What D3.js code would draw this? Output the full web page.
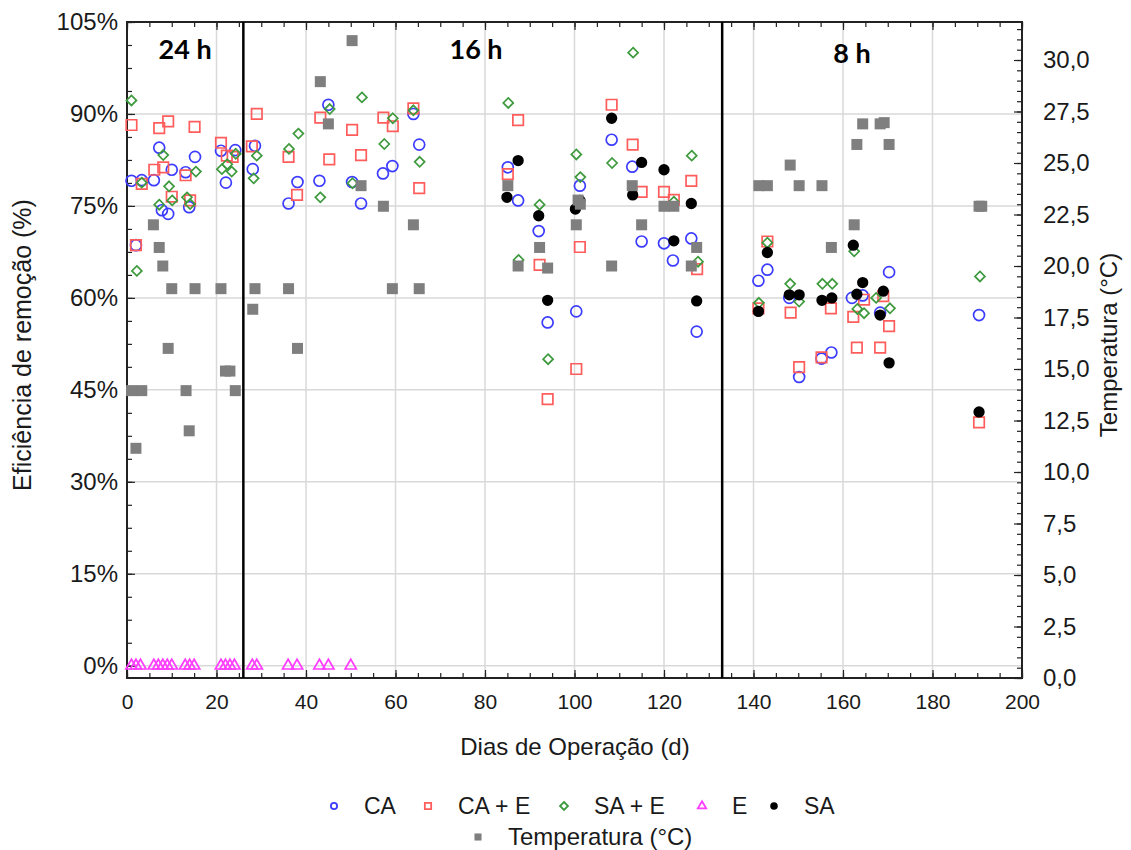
<!DOCTYPE html>
<html><head><meta charset="utf-8">
<script src="https://cdn.jsdelivr.net/npm/d3@7"></script>
<style>body{margin:0;background:#fff}svg{display:block}</style>
</head><body>
<svg id="c" width="1131" height="850"></svg>
<script>
// ---- data ----
const xTicks = [0,20,40,60,80,100,120,140,160,180,200];
const yLeftTicks = [0,15,30,45,60,75,90,105];
const yRightTicks = [0,2.5,5,7.5,10,12.5,15,17.5,20,22.5,25,27.5,30];
const phaseBreaks = [26,133];
const phaseLabels = ["24 h","16 h","8 h"];
const phaseLabelX = [13,78,162];

const caDays = [1,2,3.3,6,7.2,7.8,9.2,10,13.1,13.9,15.2,21,22.1,24.2,28.1,28.6,36.1,38.1,43,45,50.3,52.3,57.2,59.3,64,65.3,85.1,87.4,92,94,100.4,101.2,108.3,112.9,115,120,122,126.1,127.3,141.1,143.1,148,150.2,155.2,157.4,162,164.4,168.3,170.3,190.4];
const caVals = [79.1,68.6,79.2,79.2,84.5,74.3,73.7,80.9,80.5,74.8,83,84,78.8,84.1,81,84.8,75.4,78.9,79.1,91.5,78.9,75.4,80.3,81.5,90,85,81.3,75.9,70.9,56,57.8,78.3,85.8,81.4,69.2,68.9,66.1,69.7,54.5,62.8,64.6,60,47.1,50.1,51.1,60,60.4,57.6,64.2,57.2];

const caeDays = [1,2,3.3,6.1,7.2,8.1,9.2,10,13.1,14.1,15.1,21,22.3,23.6,27.9,29,36.1,38,43.2,45.2,50.3,52.3,57.3,59.4,64,65.3,85.1,87.4,92.2,94,100.4,101.2,108.3,113,115,120,122.2,126.1,127.4,141.1,143.1,148.3,150.2,155.2,157.3,162.3,163.1,164.7,168.3,169,170.3,190.4];
const caeVals = [88.2,68.6,78.6,80.9,87.7,81.3,88.8,76.5,80,75.9,87.9,85.3,83.2,83,84.7,90,83,76.8,89.4,82.6,87.4,83.3,89.4,88,90.9,77.9,80.2,89,65.4,43.5,48.4,68.3,91.5,85,77.3,77.3,76,79.1,64.7,58.3,69.2,57.6,48.7,50.3,58.3,56.9,51.9,59.7,51.9,60.3,55.4,39.7];

const saeDays = [1,2.2,3.3,7.2,8.1,9.4,10.1,13.4,14.1,15.4,21.2,22.4,23.4,24.3,28.3,29,36.2,38.3,43.2,45.3,50.4,52.5,57.5,59.4,64,65.4,85.2,87.5,92.2,94.1,100.4,101.3,108.4,113.1,122.2,126.2,127.6,141.2,143.1,148.2,150.2,155.4,157.6,162.5,163.2,164.7,167.4,170.5,190.6];
const saeVals = [92.2,64.4,78.8,75.2,83.3,78.2,75.9,76.4,75.3,80.6,81,81.8,80.6,83.5,79.5,83.2,84.3,86.8,76.4,90.8,78.7,92.7,85.1,89.3,90.6,82.2,91.8,66.2,75.2,50,83.4,79.7,82,100,75.7,83.2,65.9,59.2,69,62.3,59.4,62.3,62.3,67.6,58.2,57.5,60,58.3,63.5];

const eDays = [1,2,3,6,7,8,9,10,13,14,15,21,22,23,24,28,29,36,38,43,45,50];
const eVals = [0,0,0,0,0,0,0,0,0,0,0,0,0,0,0,0,0,0,0,0,0,0];

const saDays = [84.9,87.4,92,94,100.2,101.2,108.3,113,115,120,122.2,126.1,127.3,141.1,143.1,148,150.2,155.3,157.5,162.3,163.1,164.4,168.3,169,170.3,190.4];
const saVals = [76.4,82.4,73.4,59.6,74.5,75.9,89.3,76.8,82.1,80.9,69.3,75.4,59.5,57.8,67.4,60.5,60.5,59.6,60,68.6,60.6,62.5,57.2,61.1,49.4,41.4];

const tempDays = [1,2,3.3,5.9,7.2,8,9.2,10,13.2,13.9,15.2,21,22,23,24.2,28.1,28.6,36.1,38.1,43.2,45,50.3,52.3,57.3,59.3,64,65.3,85.1,87.4,92.2,94,100.4,100.8,101.3,108.3,112.9,115,120,122.2,126.1,127.3,141.2,143.1,148.2,150.2,155.3,157.4,162.5,163.1,164.4,168.3,169.2,170.3,190.4,191];
const tempVals = [13.95,11.15,13.95,22,20.9,20,16,18.9,13.95,12,18.9,18.9,14.9,14.9,13.95,17.9,18.9,18.9,16,28.95,26.9,30.94,23.9,22.9,18.9,22,18.9,23.9,20,20.9,19.9,22,23.2,23,20,23.9,22,22.9,22.9,20,20.9,23.9,23.9,24.9,23.9,23.9,20.9,22,25.9,26.9,26.9,26.96,25.9,22.9,22.9];

const legendRow1 = ["CA","CA + E","SA + E","E","SA"];
const legendRow2 = ["Temperatura (°C)"];

// ---- chart ----
const svg = d3.select("#c");
const L=127,R=1022,T=22,B=678;
const x = d3.scaleLinear().domain([0,200]).range([L,R]);
const yL = d3.scaleLinear().domain([-2,105]).range([B,T]);
const yR = d3.scaleLinear().domain([0,31.845]).range([B,T]);
const font = "'Liberation Sans', Arial, sans-serif";
const C = {ca:"#3c3cff", cae:"#ff5c5c", sae:"#3d9a3d", e:"#ff3dff", sa:"#000", t:"#7f7f7f"};

// grid
const g = svg.append("g");
g.selectAll("line.gx").data(xTicks.filter(d=>d>0&&d<200)).join("line")
  .attr("x1",d=>x(d)).attr("x2",d=>x(d)).attr("y1",T).attr("y2",B)
  .attr("stroke","#d9d9d9").attr("stroke-width",1.5);
g.selectAll("line.gy").data(yLeftTicks.filter(d=>d<105)).join("line")
  .attr("y1",d=>yL(d)).attr("y2",d=>yL(d)).attr("x1",L).attr("x2",R)
  .attr("stroke","#d9d9d9").attr("stroke-width",1.5);

// axes
const axB = d3.axisBottom(x).tickValues(xTicks).tickSizeInner(-8).tickSizeOuter(0).tickPadding(16).tickFormat(d3.format("d"));
const axBm = d3.axisBottom(x).tickValues(d3.range(0,201,5)).tickSize(-5).tickFormat("");
const axT = d3.axisTop(x).tickValues(xTicks).tickSizeInner(-8).tickSizeOuter(0).tickFormat("");
const axTm = d3.axisTop(x).tickValues(d3.range(0,201,5)).tickSize(-5).tickFormat("");
const axLft = d3.axisLeft(yL).tickValues(yLeftTicks).tickSizeInner(-8).tickSizeOuter(0).tickPadding(9).tickFormat(d=>d+"%");
const axLm = d3.axisLeft(yL).tickValues(d3.range(0,105.01,3.75)).tickSize(-5).tickFormat("");
const axRt = d3.axisRight(yR).tickValues(yRightTicks).tickSizeInner(-8).tickSizeOuter(0).tickPadding(21).tickFormat(d=>d3.format(".1f")(d).replace(".",","));
const axRm = d3.axisRight(yR).tickValues(d3.range(0,31.8,0.5)).tickSize(-5).tickFormat("");

function styleAx(fs){ return sel=>{
  sel.selectAll("path.domain").remove();
  sel.selectAll("line").attr("stroke","#222").attr("stroke-width",1.2);
  sel.selectAll("text").attr("font-family",font).attr("font-size",fs).attr("fill","#1a1a1a");
};}
svg.append("g").attr("transform",`translate(0,${B})`).call(axBm).call(styleAx(21));
svg.append("g").attr("transform",`translate(0,${B})`).call(axB).call(styleAx(21));
svg.append("g").attr("transform",`translate(0,${T})`).call(axTm).call(styleAx(21));
svg.append("g").attr("transform",`translate(0,${T})`).call(axT).call(styleAx(21));
svg.append("g").attr("transform",`translate(${L},0)`).call(axLm).call(styleAx(24));
svg.append("g").attr("transform",`translate(${L},0)`).call(axLft).call(styleAx(24));
svg.append("g").attr("transform",`translate(${R},0)`).call(axRm).call(styleAx(24));
svg.append("g").attr("transform",`translate(${R},0)`).call(axRt).call(styleAx(24));

// frame
svg.append("rect").attr("x",L).attr("y",T).attr("width",R-L).attr("height",B-T)
  .attr("fill","none").attr("stroke","#222").attr("stroke-width",2);

// phase lines
svg.selectAll("line.ph").data(phaseBreaks).join("line")
  .attr("x1",d=>x(d)).attr("x2",d=>x(d)).attr("y1",T).attr("y2",B)
  .attr("stroke","#000").attr("stroke-width",2.5);
svg.selectAll("text.ph").data(phaseLabels).join("text")
  .attr("x",(d,i)=>x(phaseLabelX[i])).attr("y",(d,i)=>i==2?63:59)
  .attr("text-anchor","middle").attr("font-family","Lato, 'Open Sans', sans-serif")
  .attr("font-weight",700).attr("font-size",27).text(d=>d);

// markers
const diamond = s => `M0,${-s}L${s},0L0,${s}L${-s},0Z`;
const sym = {
  circle: d3.symbol().type(d3.symbolCircle).size(Math.PI*30),
  square: d3.symbol().type(d3.symbolSquare).size(110),
  diamond: diamond(5),
  tri: d3.symbol().type(d3.symbolTriangle).size(55),
  dot: d3.symbol().type(d3.symbolCircle).size(Math.PI*32),
  tsq: d3.symbol().type(d3.symbolSquare).size(121)
};
function series(days, vals, yS, path, stroke, fill){
  svg.append("g").selectAll("path").data(days.map((d,i)=>[d,vals[i]])).join("path")
    .attr("transform",d=>`translate(${x(d[0])},${yS(d[1])})`)
    .attr("d",path).attr("fill",fill||"none").attr("stroke",fill?"none":stroke)
    .attr("stroke-width",1.7);
}
series(caDays, caVals, yL, sym.circle, C.ca);
series(caeDays, caeVals, yL, sym.square, C.cae);
series(saeDays, saeVals, yL, sym.diamond, C.sae);
series(eDays, eVals, yL, sym.tri, C.e);
series(saDays, saVals, yL, sym.dot, null, C.sa);
series(tempDays, tempVals, yR, sym.tsq, null, C.t);

// axis titles
svg.append("text").attr("x",575).attr("y",755).attr("text-anchor","middle")
  .attr("font-family",font).attr("font-size",24).attr("fill","#1a1a1a").text("Dias de Operação (d)");
svg.append("text").attr("transform","translate(31,345) rotate(-90)").attr("text-anchor","middle")
  .attr("font-family",font).attr("font-size",25).attr("fill","#1a1a1a").text("Eficiência de remoção (%)");
svg.append("text").attr("transform","translate(1117,345) rotate(-90)").attr("text-anchor","middle")
  .attr("font-family",font).attr("font-size",24).attr("fill","#1a1a1a").text("Temperatura (°C)");

// legend
const lg = svg.append("g");
const l1x = [334,428,564,702,774];
const l1col = [C.ca,C.cae,C.sae,C.e,C.sa];
const l1fill = [false,false,false,false,true];
const l1path = [
  d3.symbol().type(d3.symbolCircle).size(30)(),
  d3.symbol().type(d3.symbolSquare).size(40)(),
  diamond(4),
  d3.symbol().type(d3.symbolTriangle).size(30)(),
  d3.symbol().type(d3.symbolCircle).size(45)()
];
legendRow1.forEach((t,i)=>{
  lg.append("path").attr("transform",`translate(${l1x[i]},806)`).attr("d",l1path[i])
    .attr("fill",l1fill[i]?l1col[i]:"none").attr("stroke",l1fill[i]?"none":l1col[i]).attr("stroke-width",1.8);
  lg.append("text").attr("x",l1x[i]+30).attr("y",814).attr("font-family",font).attr("font-size",23)
    .attr("fill","#1a1a1a").text(t);
});
lg.append("path").attr("transform","translate(478,837)").attr("d",d3.symbol().type(d3.symbolSquare).size(50)()).attr("fill",C.t);
lg.append("text").attr("x",508).attr("y",845).attr("font-family",font).attr("font-size",24)
  .attr("fill","#1a1a1a").text(legendRow2[0]);
</script>
</body></html>
